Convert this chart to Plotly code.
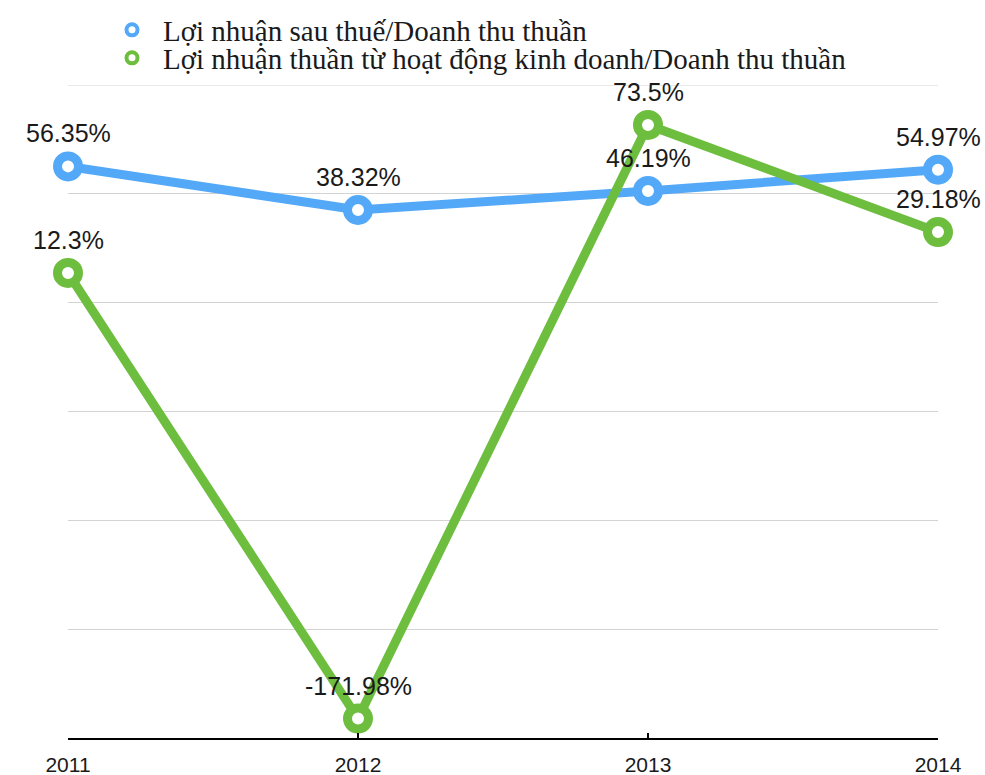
import plotly.graph_objects as go

# Profitability ratios by year (%)
years = [2011, 2012, 2013, 2014]
year_labels = ["2011", "2012", "2013", "2014"]
net_margin = [56.35, 38.32, 46.19, 54.97]          # Lợi nhuận sau thuế/Doanh thu thuần
operating_margin = [12.3, -171.98, 73.5, 29.18]    # Lợi nhuận thuần từ HĐKD/Doanh thu thuần

name_net = "Lợi nhuận sau thuế/Doanh thu thuần"
name_op = "Lợi nhuận thuần từ hoạt động kinh doanh/Doanh thu thuần"

Y_MIN, Y_MAX, Y_STEP = -180, 90, 45

BLUE = "#53A9F8"
GREEN = "#6DBE3E"
TEXT = "#1a1a1a"
GRID = "#d3d3d3"
SANS = "Liberation Sans, Arial, sans-serif"
SERIF = "Liberation Serif, Times New Roman, serif"

fig = go.Figure()


def add_series(values, name, color, legend_id):
    # main line with hollow circular markers
    fig.add_trace(go.Scatter(
        x=years, y=values, mode="lines+markers", name=name, showlegend=False,
        line=dict(color=color, width=9),
        marker=dict(symbol="circle", size=21, color="white",
                    line=dict(color=color, width=9)),
        cliponaxis=False, hoverinfo="skip",
    ))
    # legend entry: marker only
    fig.add_trace(go.Scatter(
        x=[None], y=[None], mode="markers", name=name, legend=legend_id,
        marker=dict(symbol="circle", size=11, color="white",
                    line=dict(color=color, width=4)),
    ))
    # value labels above each point
    for x, v in zip(years, values):
        fig.add_annotation(
            x=x, y=v, text=f"{v}%", showarrow=False, yshift=33,
            font=dict(family=SANS, size=25, color=TEXT),
        )


add_series(net_margin, name_net, BLUE, "legend")
add_series(operating_margin, name_op, GREEN, "legend2")

# one legend per series, placed relative to the whole figure
legend_style = dict(
    x=101 / 985, xref="container", xanchor="left",
    yref="container", yanchor="middle",
    font=dict(family=SERIF, size=29, color=TEXT),
    itemwidth=52, bgcolor="rgba(0,0,0,0)",
)

# top gridline sits on the range edge, draw it explicitly
fig.add_shape(type="line", xref="paper", yref="y", x0=0, x1=1, y0=Y_MAX, y1=Y_MAX,
              line=dict(color=GRID, width=1), layer="below")

fig.update_layout(
    width=985, height=775,
    margin=dict(l=68, r=47, t=85, b=37, autoexpand=False),
    paper_bgcolor="white", plot_bgcolor="white",
    showlegend=True,
    legend=dict(y=1 - 30 / 775, **legend_style),
    legend2=dict(y=1 - 58 / 775, **legend_style),
    xaxis=dict(
        range=[years[0], years[-1]], tickvals=years, ticktext=year_labels,
        showgrid=False, zeroline=False, automargin=False,
        showline=True, linecolor="black", linewidth=2,
        ticks="inside", ticklen=5, tickwidth=1.5, tickcolor="black",
        ticklabelstandoff=7,
        tickfont=dict(family=SANS, size=21, color=TEXT),
    ),
    yaxis=dict(
        range=[Y_MIN, Y_MAX], dtick=Y_STEP, tick0=0,
        showticklabels=False, showgrid=True, gridcolor=GRID, gridwidth=1,
        zeroline=False, showline=False, automargin=False,
    ),
)

fig.write_html("out.html")
